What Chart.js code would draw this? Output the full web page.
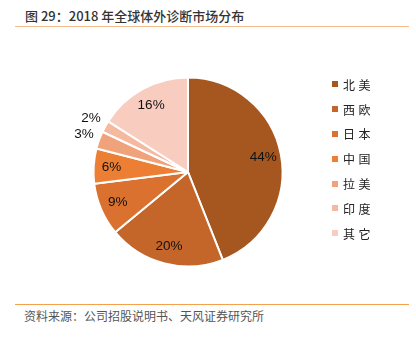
<!DOCTYPE html>
<html>
<head>
<meta charset="utf-8">
<script src="https://cdn.jsdelivr.net/npm/chart.js@4/dist/chart.umd.min.js"></script>
<style>
    body {
        margin: 0;
        width: 416px;
        height: 337px;
        background: #ffffff;
        position: relative;
        overflow: hidden;
        font-family: "Noto Sans CJK SC", sans-serif;
    }

    .title {
        position: absolute;
        left: 25px;
        top: 6px;
        font-size: 13px;
        font-weight: 500;
        color: #333333;
        white-space: nowrap;
    }

    .rule {
        position: absolute;
        left: 15px;
        width: 394px;
        height: 1px;
    }

    .source {
        position: absolute;
        left: 24px;
        top: 307px;
        font-size: 12px;
        color: #555555;
        white-space: nowrap;
    }

    #chartBox {
        position: absolute;
        left: 0;
        top: 40px;
        width: 416px;
        height: 250px;
    }

    #legend {
        position: absolute;
        left: 332px;
        top: 72px;
    }

    .legend-item {
        height: 24.8px;
        display: flex;
        align-items: center;
        font-size: 12px;
        letter-spacing: 3.5px;
        color: #222222;
        font-family: "Noto Sans CJK JP", serif;
    }

    .legend-item span.box {
        width: 6px;
        height: 6px;
        margin-right: 5px;
        display: inline-block;
    }
</style>
</head>
<body>

<div class="title">图 29：2018 年全球体外诊断市场分布</div>
<div class="rule" style="top:26px;background:#f6bb8a;"></div>

<div id="chartBox">
    <canvas id="pieChart"></canvas>
</div>

<div id="legend"></div>

<div class="rule" style="top:304px;background:#f4a04c;"></div>
<div class="source">资料来源：公司招股说明书、天风证券研究所</div>

<script>

const regions = ["北美", "西欧", "日本", "中国", "拉美", "印度", "其它"];

const shares = [44, 20, 9, 6, 3, 2, 16];

const sliceColors = [
    "#a5571f",
    "#c4662a",
    "#da712e",
    "#ed7f34",
    "#f0a27b",
    "#f5b9a0",
    "#f8cdc0"
];

/* =========================
   PERCENT LABELS
========================= */

const percentLabels = {

    id: "percentLabels",

    afterDatasetsDraw(chart) {

        const ctx = chart.ctx;
        const arcs = chart.getDatasetMeta(0).data;

        ctx.save();
        ctx.font = "13.5px 'Liberation Sans', Arial, sans-serif";
        ctx.fillStyle = "#111111";
        ctx.textAlign = "center";
        ctx.textBaseline = "middle";

        arcs.forEach((arc, i) => {

            const value = shares[i];
            const mid = (arc.startAngle + arc.endAngle) / 2;
            const factor = value < 5 ? 1.17 : 0.81;
            const r = arc.outerRadius * factor;

            ctx.fillText(
                value + "%",
                arc.x + Math.cos(mid) * r,
                arc.y + Math.sin(mid) * r
            );

        });

        ctx.restore();

    }

};

/* =========================
   PIE
========================= */

new Chart(document.getElementById("pieChart"), {

    type: "pie",

    data: {

        labels: regions,

        datasets: [

            {

                data: shares,

                backgroundColor: sliceColors,

                borderColor: "#ffffff",

                borderWidth: 2

            }

        ]

    },

    options: {

        responsive: true,

        maintainAspectRatio: false,

        animation: false,

        layout: {
            padding: {
                left: 92.5,
                right: 132.5,
                top: 36.5,
                bottom: 22.5
            }
        },

        plugins: {

            legend: {
                display: false
            },

            tooltip: {
                enabled: false
            }

        }

    },

    plugins: [percentLabels]

});

/* =========================
   LEGEND
========================= */

const legendBox = document.getElementById("legend");

regions.forEach((name, i) => {

    const item = document.createElement("div");
    item.className = "legend-item";

    const box = document.createElement("span");
    box.className = "box";
    box.style.background = sliceColors[i];

    item.appendChild(box);
    item.appendChild(document.createTextNode(name));

    legendBox.appendChild(item);

});

</script>
</body>
</html>
